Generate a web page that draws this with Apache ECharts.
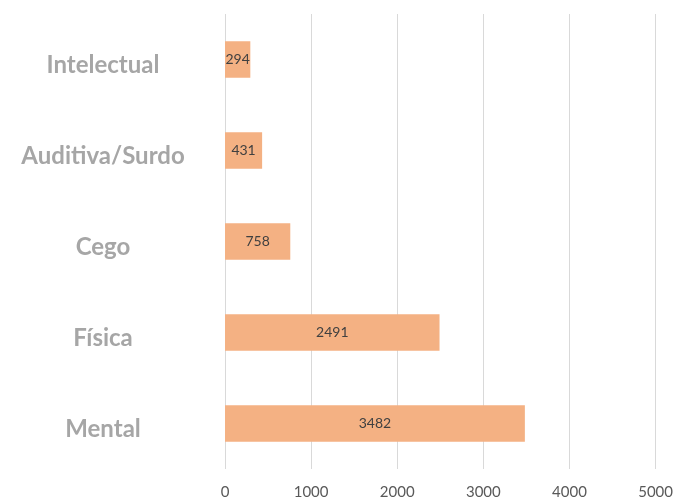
<!DOCTYPE html>
<html>
<head>
<meta charset="utf-8">
<script src="https://cdn.jsdelivr.net/npm/echarts@6/dist/echarts.min.js"></script>
<style>
  html, body { margin: 0; padding: 0; background: #fff; }
  #chart { width: 676px; height: 500px; }
</style>
</head>
<body>
<div id="chart"></div>
<script>
// bottom to top, as drawn
const categories = ["Mental", "Física", "Cego", "Auditiva/Surdo", "Intelectual"];
const values = [3482, 2491, 758, 431, 294];
const xTicks = [0, 1000, 2000, 3000, 4000, 5000];

const chart = echarts.init(document.getElementById("chart"));

chart.setOption({
  animation: false,
  grid: { left: 225, right: 20, top: 14, bottom: 31, containLabel: false },
  xAxis: {
    type: "value",
    min: xTicks[0],
    max: xTicks[xTicks.length - 1],
    interval: 1000,
    axisLine: { show: false },
    axisTick: { show: false },
    splitLine: { show: true, lineStyle: { color: "#d9d9d9", width: 1 } },
    axisLabel: {
      color: "#595959",
      fontFamily: "Lato, 'Open Sans', sans-serif",
      fontSize: 15,
      margin: 16,
      formatter: (v) => String(v),
    },
  },
  yAxis: {
    type: "category",
    data: categories,
    axisLine: { show: false },
    axisTick: { show: false },
    axisLabel: {
      align: "center",
      margin: 122,
      formatter: (v) => `{c|${v}}`,
      rich: {
        c: {
          color: "#a6a6a6",
          fontFamily: "Lato, 'Open Sans', sans-serif",
          fontWeight: "bold",
          fontSize: 24,
          padding: [12, 0, 0, 0],
        },
      },
    },
  },
  series: [
    {
      type: "bar",
      data: values,
      barWidth: "40%",
      itemStyle: { color: "#f4b183" },
      label: {
        show: true,
        position: "inside",
        color: "#404040",
        fontFamily: "Lato, 'Open Sans', sans-serif",
        fontSize: 14,
      },
    },
  ],
});
</script>
</body>
</html>
